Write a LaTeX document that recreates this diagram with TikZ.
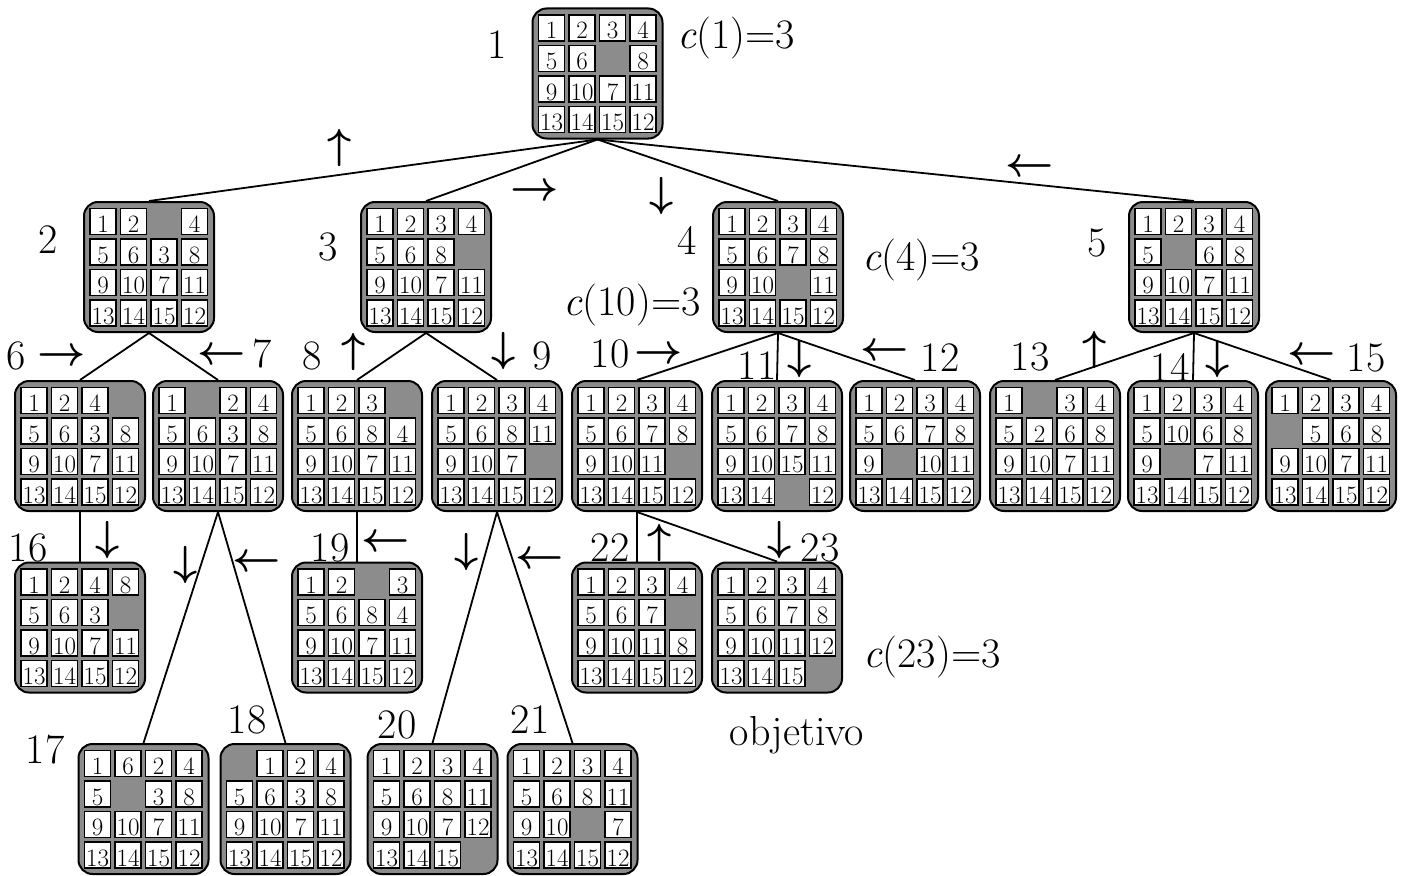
\RequirePackage{fix-cm}
\documentclass[tikz,border=0pt]{standalone}
\tikzset{
 board/.style={draw, line width=2pt, fill=black!45, rounded corners=14pt, minimum width=130pt, minimum height=130pt, inner sep=0pt},
 cellbox/.style={draw, line width=1.6pt, fill=white, minimum width=26pt, minimum height=26pt, inner sep=0pt},
 celltext/.style={anchor=base, inner sep=0pt, font=\fontsize{25}{25}\selectfont},
 lab/.style={font=\fontsize{42}{42}\selectfont, inner sep=0pt},
 mv/.style={font=\fontsize{42}{42}\selectfont\boldmath, inner sep=0pt},
 big/.style={font=\fontsize{42}{42}\selectfont, inner sep=0pt},
 edge/.style={line width=1.8pt},
}
\newcommand\puzzle[4]{%
 \node[board] (#1) at (#2,#3) {};
 \foreach \v [count=\i from 0] in {#4} {%
   \pgfmathtruncatemacro\pc{mod(\i,4)}%
   \pgfmathtruncatemacro\pr{div(\i,4)}%
   \pgfmathsetmacro\px{#2-65+6+13+\pc*30.5}%
   \pgfmathsetmacro\py{#3-65+6.5+13+\pr*30.5}%
   \ifnum\v>0
     \node[cellbox] (#1c\i) at (\px,\py) {};
     \node[celltext] (#1t\i) at (\px,\py+11) {\v};
   \fi
 }%
}
\begin{document}
\begin{tikzpicture}[x=1pt,y=-1pt]
\useasboundingbox (0,0) rectangle (1407,875);
% boards
\puzzle{b1}{597.5}{73.5}{1,2,3,4,5,6,0,8,9,10,7,11,13,14,15,12}
\puzzle{b2}{149}{267}{1,2,0,4,5,6,3,8,9,10,7,11,13,14,15,12}
\puzzle{b3}{426}{267}{1,2,3,4,5,6,8,0,9,10,7,11,13,14,15,12}
\puzzle{b4}{778}{267}{1,2,3,4,5,6,7,8,9,10,0,11,13,14,15,12}
\puzzle{b5}{1194}{267}{1,2,3,4,5,0,6,8,9,10,7,11,13,14,15,12}
\puzzle{b6}{80}{446}{1,2,4,0,5,6,3,8,9,10,7,11,13,14,15,12}
\puzzle{b7}{218}{446}{1,0,2,4,5,6,3,8,9,10,7,11,13,14,15,12}
\puzzle{b8}{357}{446}{1,2,3,0,5,6,8,4,9,10,7,11,13,14,15,12}
\puzzle{b9}{497}{446}{1,2,3,4,5,6,8,11,9,10,7,0,13,14,15,12}
\puzzle{b10}{637}{446}{1,2,3,4,5,6,7,8,9,10,11,0,13,14,15,12}
\puzzle{b11}{777}{446}{1,2,3,4,5,6,7,8,9,10,15,11,13,14,0,12}
\puzzle{b12}{915}{446}{1,2,3,4,5,6,7,8,9,0,10,11,13,14,15,12}
\puzzle{b13}{1055}{446}{1,0,3,4,5,2,6,8,9,10,7,11,13,14,15,12}
\puzzle{b14}{1193}{446}{1,2,3,4,5,10,6,8,9,0,7,11,13,14,15,12}
\puzzle{b15}{1331}{446}{1,2,3,4,0,5,6,8,9,10,7,11,13,14,15,12}
\puzzle{b16}{80}{627.5}{1,2,4,8,5,6,3,0,9,10,7,11,13,14,15,12}
\puzzle{b19}{357}{627.5}{1,2,0,3,5,6,8,4,9,10,7,11,13,14,15,12}
\puzzle{b22}{637}{627.5}{1,2,3,4,5,6,7,0,9,10,11,8,13,14,15,12}
\puzzle{b23}{777}{627.5}{1,2,3,4,5,6,7,8,9,10,11,12,13,14,15,0}
\puzzle{b17}{143.5}{809}{1,6,2,4,5,0,3,8,9,10,7,11,13,14,15,12}
\puzzle{b18}{285.5}{809}{0,1,2,4,5,6,3,8,9,10,7,11,13,14,15,12}
\puzzle{b20}{432.5}{809}{1,2,3,4,5,6,8,11,9,10,7,12,13,14,15,0}
\puzzle{b21}{572.5}{809}{1,2,3,4,5,6,8,11,9,10,0,7,13,14,15,12}
% connectors
\foreach \a/\b in {b1/b2,b1/b3,b1/b4,b1/b5,b2/b6,b2/b7,b3/b8,b3/b9,b4/b10,b4/b11,b4/b12,b5/b13,b5/b14,b5/b15,b6/b16,b7/b17,b7/b18,b8/b19,b9/b20,b9/b21,b10/b22,b10/b23}
  \draw[edge] (\a.south) -- (\b.north);
% node numbers
\node[lab] (n1) at (497,45) {1};
\node[lab] (n2) at (48,240) {2};
\node[lab] (n3) at (328,247) {3};
\node[lab] (n4) at (687,240) {4};
\node[lab] (n5) at (1097,243) {5};
\node[lab] (n6) at (16,356) {6};
\node[lab] (n7) at (262,354) {7};
\node[lab] (n8) at (312,356) {8};
\node[lab] (n9) at (542,356) {9};
\node[lab] (n10) at (610,354) {10};
\node[lab] (n11) at (757,366) {11};
\node[lab] (n12) at (940,358) {12};
\node[lab] (n13) at (1030,357) {13};
\node[lab] (n14) at (1170,367) {14};
\node[lab] (n15) at (1366,358) {15};
\node[lab] (n16) at (28,548) {16};
\node[lab] (n17) at (45,750) {17};
\node[lab] (n18) at (247,720) {18};
\node[lab] (n19) at (330,548) {19};
\node[lab] (n20) at (397,725) {20};
\node[lab] (n21) at (530,720) {21};
\node[lab] (n22) at (610,548) {22};
\node[lab] (n23) at (820,548) {23};
% moves
\node[mv] (m2) at (340,148) {$\uparrow$};
\node[mv] (m3) at (535,192) {$\rightarrow$};
\node[mv] (m4) at (662,196) {$\downarrow$};
\node[mv] (m5) at (1030,168) {$\leftarrow$};
\node[mv] (m6) at (62,357) {$\rightarrow$};
\node[mv] (m7) at (222,356) {$\leftarrow$};
\node[mv] (m8) at (354,352) {$\uparrow$};
\node[mv] (m9) at (504,351) {$\downarrow$};
\node[mv] (m10) at (659,355) {$\rightarrow$};
\node[mv] (m11) at (800,359) {$\downarrow$};
\node[mv] (m12) at (885,352) {$\leftarrow$};
\node[mv] (m13) at (1095,350) {$\uparrow$};
\node[mv] (m14) at (1218,359) {$\downarrow$};
\node[mv] (m15) at (1312,356) {$\leftarrow$};
\node[mv] (m16) at (108,540) {$\downarrow$};
\node[mv] (m17) at (186,565) {$\downarrow$};
\node[mv] (m18) at (257,563) {$\leftarrow$};
\node[mv] (m19) at (386,543) {$\leftarrow$};
\node[mv] (m20) at (467,552) {$\downarrow$};
\node[mv] (m21) at (540,560) {$\leftarrow$};
\node[mv] (m22) at (660,543) {$\uparrow$};
\node[mv] (m23) at (780,540) {$\downarrow$};
% costs
\node[big] (c1) at (736,38) {\textit{c}(1)=3};
\node[big] (c4) at (921,260) {\textit{c}(4)=3};
\node[big] (c10) at (632,305) {\textit{c}(10)=3};
\node[big] (c23) at (932,657) {\textit{c}(23)=3};
\node[big] (goal) at (797,735) {objetivo};
\end{tikzpicture}
\end{document}
